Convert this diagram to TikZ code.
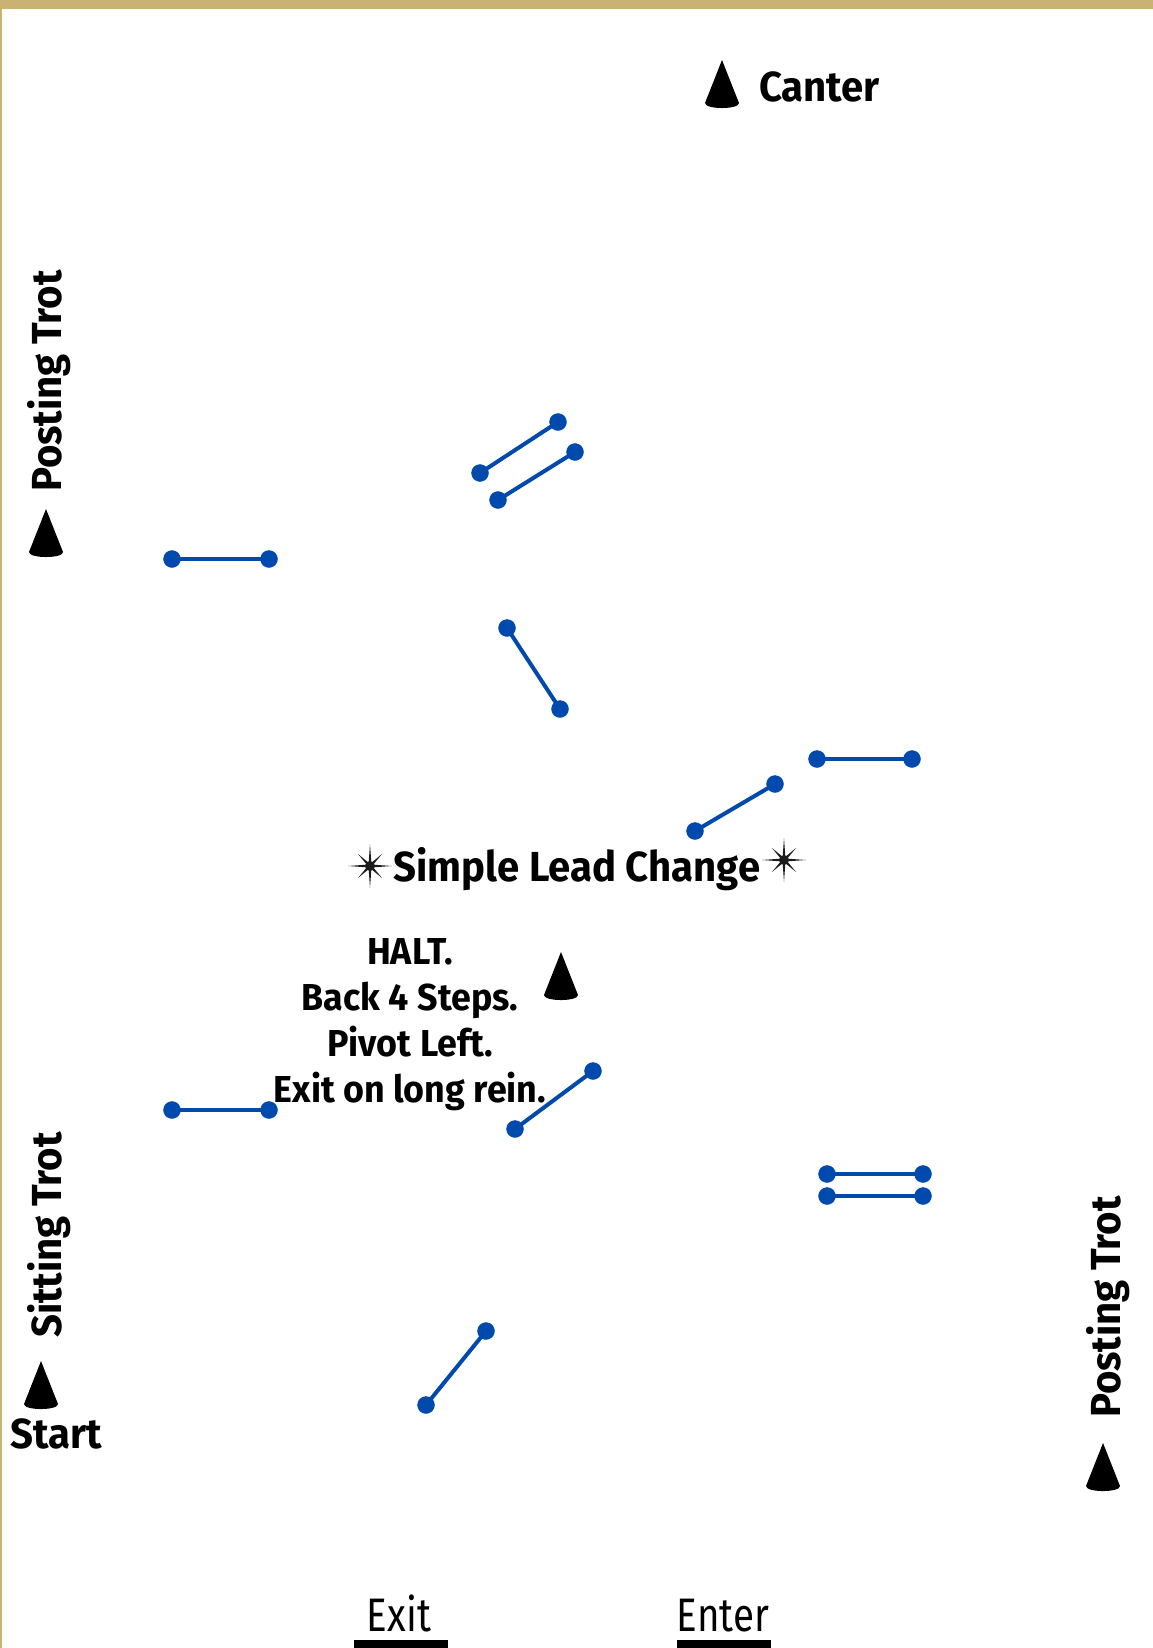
\documentclass[tikz,border=0pt]{standalone}
\usepackage{fontspec}
\setmainfont{Fira Sans}
\newfontfamily\cuefont{Fira Sans}[FakeStretch=0.955]
\newfontfamily\gatefont{Fira Sans}[FakeStretch=0.82]
\usepackage{tkz-euclide}
\definecolor{PathClr}{RGB}{0,74,173}
\definecolor{FrameClr}{RGB}{201,178,114}
\definecolor{StarClr}{RGB}{28,28,28}
\tikzset{
  cone/.pic={\fill (0,-48) -- (17,-5) .. controls (17,1.7) and (-17,1.7) .. (-17,-5) -- cycle;},
  sparkle/.pic={\fill[StarClr] (0:22) \foreach \k in {1,...,15}{
      -- ({\k*22.5}:{mod(\k,2)==1 ? 3.5 : (mod(\k,4)==0 ? 22 : 17)})} -- cycle;
    \fill[StarClr] (0,0) circle (5pt);},
  cue/.style={font=\fontsize{42}{46}\cuefont\bfseries,inner sep=0pt},
  note/.style={font=\fontsize{37.5}{46}\cuefont\bfseries,inner sep=0pt},
  gate/.style={font=\fontsize{47}{50}\gatefont,inner sep=0pt}
}

\begin{document}
\begin{tikzpicture}[x=1pt,y=-1pt]
\useasboundingbox (0,0) rectangle (1153,1648);
\fill[FrameClr] (0,0) rectangle (1153,9);
\fill[FrameClr] (0,0) rectangle (2,1648);

\tkzDefPoints{480/473/A1,558/422/B1,498/500/A2,575/452/B2,172/559/A3,269/559/B3,
  507/628/A4,560/709/B4,817/759/A5,912/759/B5,695/831/A6,775/784/B6,
  172/1110/A7,269/1110/B7,515/1129/A8,593/1071/B8,827/1174/A9,923/1174/B9,
  827/1196/A10,923/1196/B10,426/1405/A11,486/1331/B11}
\tkzDrawSegments[color=PathClr,line width=4pt](A1,B1 A2,B2 A3,B3 A4,B4 A5,B5 A6,B6 A7,B7 A8,B8 A9,B9 A10,B10 A11,B11)
\tkzDrawPoints[size=17,color=PathClr,fill=PathClr](A1,B1,A2,B2,A3,B3,A4,B4,A5,B5,A6,B6,A7,B7,A8,B8,A9,B9,A10,B10,A11,B11)

% cones
\pic at (722,108) {cone};
\pic at (46,557) {cone};
\pic at (41,1409) {cone};
\pic at (561,1000) {cone};
\pic at (1103,1491) {cone};

% labels
\node[cue,anchor=base west] (canter) at (759,102) {Canter};
\node[cue,rotate=90,anchor=base] (postL) at (61,381) {Posting Trot};
\node[cue,rotate=90,anchor=base] (sitL) at (61,1235) {Sitting Trot};
\node[cue,rotate=90,anchor=base] (postR) at (1120,1307) {Posting Trot};
\node[cue,anchor=base] (start) at (56,1448) {Start};
\node[cue,anchor=base] (lead) at (577,881) {Simple Lead Change};
\pic at (370,866) {sparkle};
\pic at (784,860) {sparkle};
\foreach \t [count=\i] in {HALT.,Back 4 Steps.,Pivot Left.,Exit on long rein.}
  \node[note,anchor=base] (halt\i) at (410,{964+46*(\i-1)}) {\t};

% gates
\node[gate,anchor=base] (exit) at (399,1631) {Exit};
\node[gate,anchor=base] (enter) at (723,1631) {Enter};
\fill (354,1640) rectangle (448,1648);
\fill (677,1640) rectangle (771,1648);

\end{tikzpicture}
\end{document}
